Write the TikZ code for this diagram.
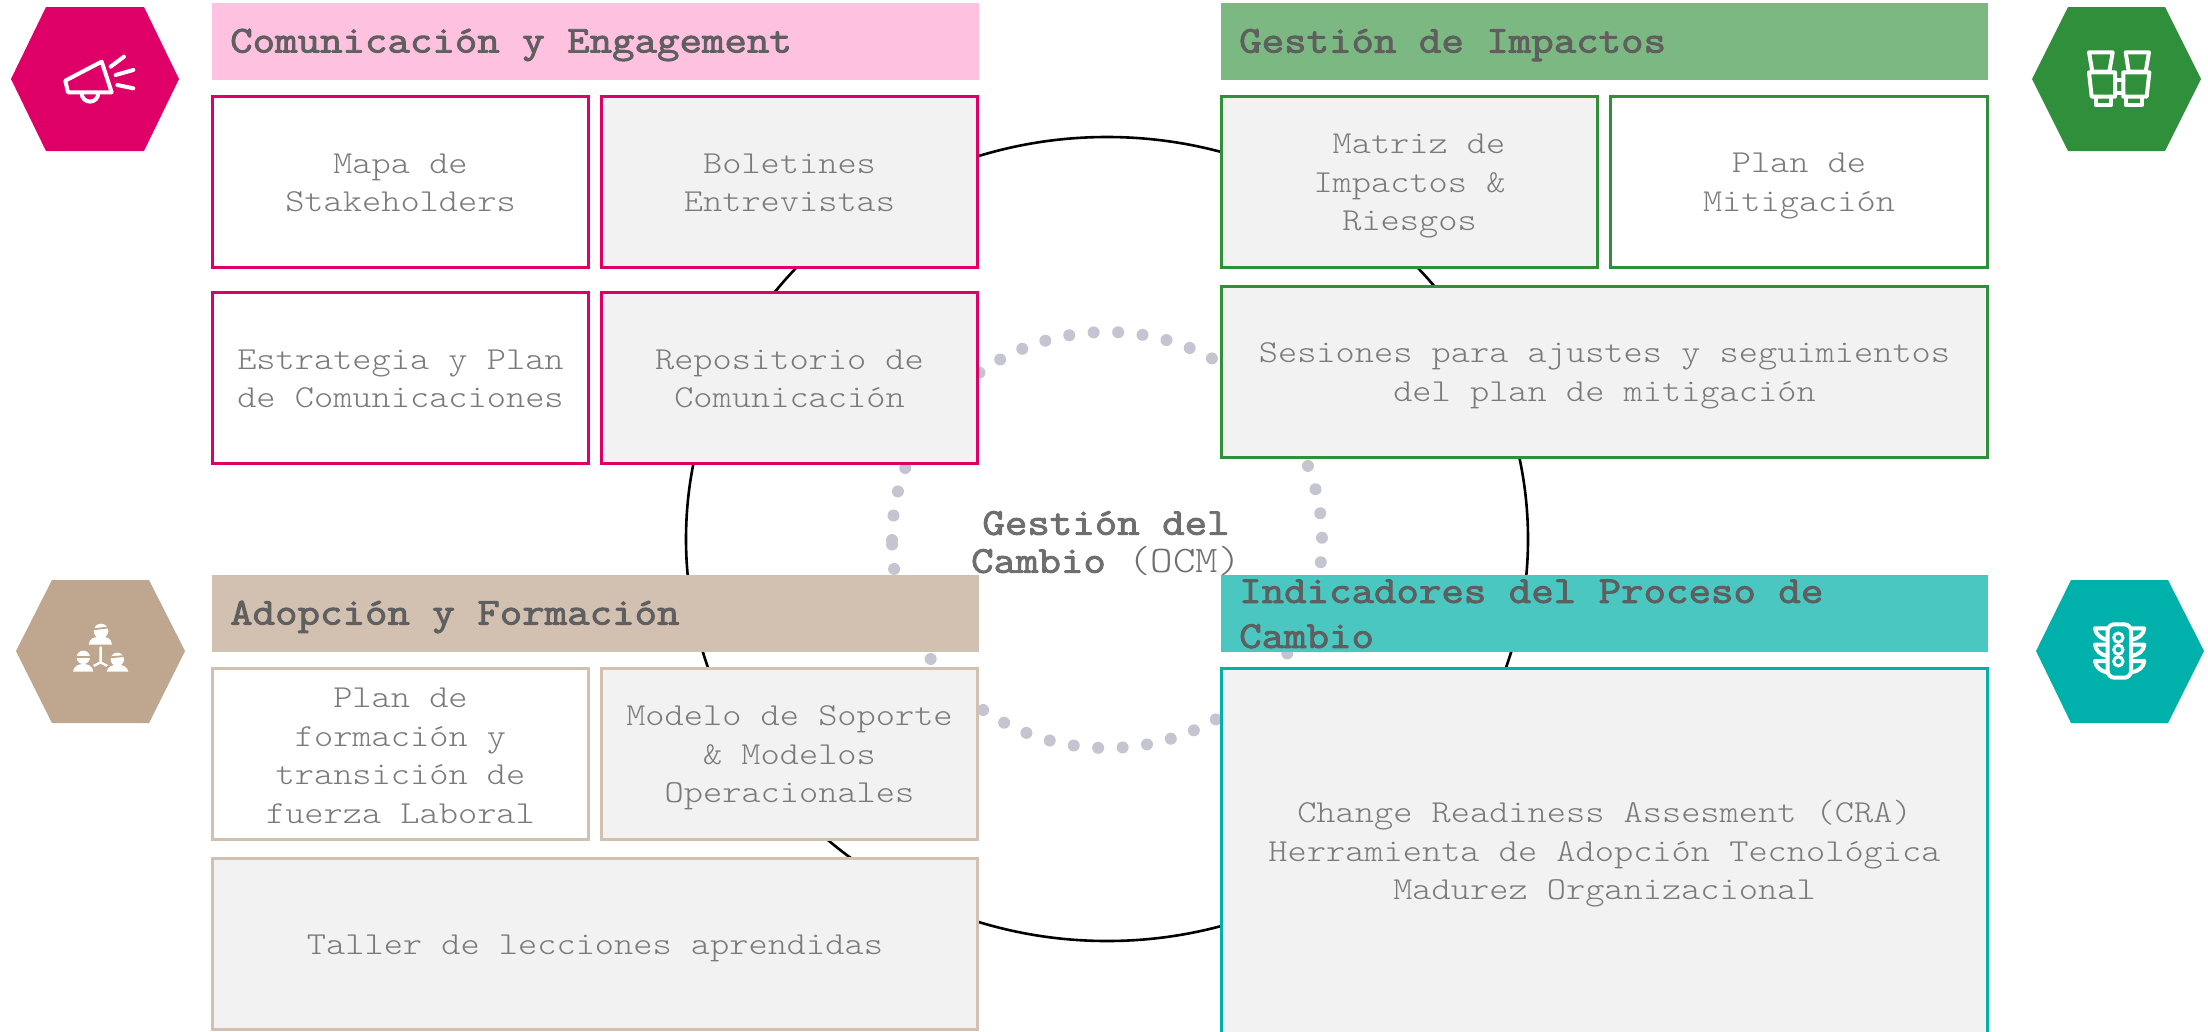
\documentclass[tikz,border=0pt]{standalone}
\usepackage{fontspec}
\setmainfont{Latin Modern Mono Light}[FakeStretch=1.143]
\newfontfamily\titlefont{Latin Modern Mono}[FakeStretch=1.148,FakeBold=2.4]
\definecolor{cpink}{HTML}{DF0067}
\definecolor{cpinkt}{HTML}{FFC1E0}
\definecolor{cgreen}{HTML}{2F8F3B}
\definecolor{cgreent}{HTML}{7CB982}
\definecolor{ctan}{HTML}{BFA68F}
\definecolor{ctant}{HTML}{D2C0B1}
\definecolor{cteal}{HTML}{00B0AA}
\definecolor{cteals}{HTML}{4AC7C1}
\definecolor{cfill}{HTML}{F2F2F2}
\definecolor{cdot}{HTML}{C5C5D1}
\definecolor{ctext}{HTML}{7A7A7A}
\definecolor{ctitle}{HTML}{5F5F5F}
\definecolor{ccenter}{HTML}{6E6E6E}
\tikzset{
  bodybox/.style={draw=#1,line width=3pt,inner sep=0pt,outer sep=0pt},
  bodytext/.style={inner sep=0pt,align=center,text=ctext,font=\fontsize{32}{38.5}\selectfont},
  grayfill/.style={fill=cfill},
  whitefill/.style={fill=white},
  titlelabel/.style={anchor=west,inner sep=0pt,align=left,text=ctitle,font=\titlefont\fontsize{38}{45}\selectfont},
  iconline/.style={draw=white,line width=4pt,line cap=round,line join=round},
  iconx/.style={x=0.33333pt,y=-0.33333pt},
}
% name, x0, y0, x1, y1, style list, text centre y, text
\newcommand{\pxbox}[8]{%
  \pgfmathsetmacro{\bw}{#4-#2-3}\pgfmathsetmacro{\bh}{#5-#3-3}%
  \pgfmathsetmacro{\bx}{(#2+#4)/2}\pgfmathsetmacro{\by}{(#3+#5)/2}%
  \node[#6,minimum width=\bw pt,minimum height=\bh pt] (#1) at (\bx,\by) {};
  \node[bodytext] (#1l) at (\bx,#7) {#8};}
\newcommand{\pxrect}[6]{%
  \pgfmathsetmacro{\bw}{#4-#2}\pgfmathsetmacro{\bh}{#5-#3}%
  \pgfmathsetmacro{\bx}{(#2+#4)/2}\pgfmathsetmacro{\by}{(#3+#5)/2}%
  \node[fill=#6,inner sep=0pt,outer sep=0pt,minimum width=\bw pt,minimum height=\bh pt] (#1) at (\bx,\by) {};}
\begin{document}
\begin{tikzpicture}[x=1pt,y=-1pt]
\useasboundingbox (0,0) rectangle (2208,1031);
% circle and dotted ring
\draw[black,line width=2.6pt] (1107,539) ellipse [x radius=421pt,y radius=402pt];
\draw[cdot,line width=12pt,line cap=round,dash pattern=on 0.01pt off 24.52pt] (892,540) arc [start angle=180,end angle=-180,x radius=215pt,y radius=208pt];
% hexagons
\fill[cpink] (11,79) -- (46,7) -- (144,7) -- (179,79) -- (144,151) -- (46,151) -- cycle;
\fill[cgreen] (2032,79) -- (2068,7) -- (2165,7) -- (2201,79) -- (2165,151) -- (2068,151) -- cycle;
\fill[ctan] (16,651) -- (52,580) -- (149,580) -- (185,651) -- (149,723) -- (52,723) -- cycle;
\fill[cteal] (2036,651) -- (2071,580) -- (2168,580) -- (2204,651) -- (2168,723) -- (2071,723) -- cycle;
% megaphone icon
\begin{scope}[iconx]
\draw[iconline] (196,242) -- (305,185) -- (335,277) -- (204,277) -- cycle;
\draw[iconline] (245,280) arc [start angle=180,end angle=360,radius=8.3pt];
\draw[iconline] (332,200) -- (372,170);
\draw[iconline] (347,225) -- (400,210);
\draw[iconline] (352,255) -- (400,265);
\end{scope}
% binoculars icon
\begin{scope}[iconx,shift={(2000pt,0pt)}]
\draw[iconline] (267,157) -- (338,157) -- (328,215) -- (277,215) -- cycle;
\draw[iconline] (377,157) -- (447,157) -- (437,215) -- (386,215) -- cycle;
\draw[iconline] (267,217) -- (345,217) -- (345,290) -- (275,290) -- cycle;
\draw[iconline] (370,217) -- (448,217) -- (440,290) -- (370,290) -- cycle;
\draw[iconline] (345,240) -- (370,240);
\draw[iconline] (345,280) -- (370,280);
\draw[iconline] (288,290) -- (288,316) -- (332,316) -- (332,290);
\draw[iconline] (378,290) -- (378,316) -- (425,316) -- (425,290);
\end{scope}
% people icon
\begin{scope}[iconx,shift={(0pt,-570pt)}]
\fill[white] (303,183) circle [radius=7.3pt];
\fill[white] (266,224) .. controls (268,204) and (285,200) .. (303,200) .. controls (320,200) and (334,204) .. (336,224) -- cycle;
\fill[white] (250,262) circle [radius=6.7pt];
\fill[white] (219,305) .. controls (221,288) and (235,282) .. (250,282) .. controls (265,282) and (278,288) .. (280,305) -- cycle;
\fill[white] (352,268) circle [radius=6.7pt];
\fill[white] (320,305) .. controls (322,290) and (337,284) .. (352,284) .. controls (367,284) and (383,290) .. (385,305) -- cycle;
\draw[ctan,line width=1.8pt] (278,178) -- (328,172);
\draw[ctan,line width=1.8pt] (228,260) -- (272,260);
\draw[ctan,line width=1.8pt] (330,262) -- (374,258);
\draw[white,line width=2.4pt] (302,230) -- (302,277) -- (281,288);
\draw[white,line width=2.4pt] (302,277) -- (322,288);
\end{scope}
% traffic light icon
\begin{scope}[iconx,shift={(2000pt,-570pt)}]
\draw[iconline] (343,163) -- (373,163) arc [start angle=90,end angle=0,radius=6.7pt] -- (393,303) arc [start angle=0,end angle=-90,radius=6.7pt] -- (343,323) arc [start angle=-90,end angle=-180,radius=6.7pt] -- (323,183) arc [start angle=180,end angle=90,radius=6.7pt] -- cycle;
\foreach \cy in {203,239,274} {
  \draw[white,line width=3pt] (355,\cy) circle [radius=4.6pt];
}
\foreach \fy in {175,224,273} {
  \draw[iconline] (320,\fy) -- (285,\fy) .. controls (287,\fy+18) and (302,\fy+30) .. (320,\fy+34);
  \draw[iconline] (396,\fy) -- (433,\fy) .. controls (431,\fy+18) and (416,\fy+30) .. (396,\fy+34);
}
\end{scope}
% title bands
\pxrect{t1}{212}{3}{979}{80}{cpinkt}
\pxrect{t2}{1221}{3}{1988}{80}{cgreent}
\pxrect{t3}{212}{575}{979}{652}{ctant}
\pxrect{t4}{1221}{575}{1988}{652}{cteals}
\node[titlelabel] (t1l) at (230,45) {Comunicación y Engagement};
\node[titlelabel] (t2l) at (1239,45) {Gestión de Impactos};
\node[titlelabel] (t3l) at (230,617) {Adopción y Formación};
\node[titlelabel] (t4l) at (1239,614) {Indicadores del Proceso de\\Cambio};
% pink boxes
\pxbox{a1}{211}{95}{590}{269}{bodybox=cpink,whitefill}{183}{Mapa de\\Stakeholders}
\pxbox{a2}{600}{95}{979}{269}{bodybox=cpink,grayfill}{183}{Boletines\\Entrevistas}
\pxbox{a3}{211}{291}{590}{465}{bodybox=cpink,whitefill}{379}{Estrategia y Plan\\de Comunicaciones}
\pxbox{a4}{600}{291}{979}{465}{bodybox=cpink,grayfill}{379}{Repositorio de\\Comunicación}
% green boxes
\pxbox{b1}{1220}{95}{1599}{269}{bodybox=cgreen,grayfill}{186}{\hspace*{19pt}Matriz de\\Impactos \&\\Riesgos}
\pxbox{b2}{1609}{95}{1989}{269}{bodybox=cgreen,whitefill}{186}{Plan de\\Mitigación}
\pxbox{b3}{1220}{285}{1989}{459}{bodybox=cgreen,grayfill}{376}{Sesiones para ajustes y seguimientos\\del plan de mitigación}
% tan boxes
\pxbox{c1}{211}{667}{590}{841}{bodybox=ctant,whitefill}{756}{Plan de\\formación y\\transición de\\fuerza Laboral}
\pxbox{c2}{600}{667}{979}{841}{bodybox=ctant,grayfill}{758}{Modelo de Soporte\\\& Modelos\\Operacionales}
\pxbox{c3}{211}{857}{979}{1031}{bodybox=ctant,grayfill}{948}{Taller de lecciones aprendidas}
% teal box (runs off the bottom)
\pxbox{d1}{1220}{667}{1989}{1040}{bodybox=cteal,grayfill}{854}{Change Readiness Assesment (CRA)\\Herramienta de Adopción Tecnológica\\Madurez Organizacional}
% centre label
\node[align=center,text=ccenter,font=\fontsize{37.5}{38}\selectfont,inner sep=0pt] (ctr) at (1106,543.5) {{\titlefont\fontsize{38}{38}\selectfont Gestión del}\\{\titlefont\fontsize{38}{38}\selectfont Cambio} (OCM)};
\end{tikzpicture}
\end{document}
